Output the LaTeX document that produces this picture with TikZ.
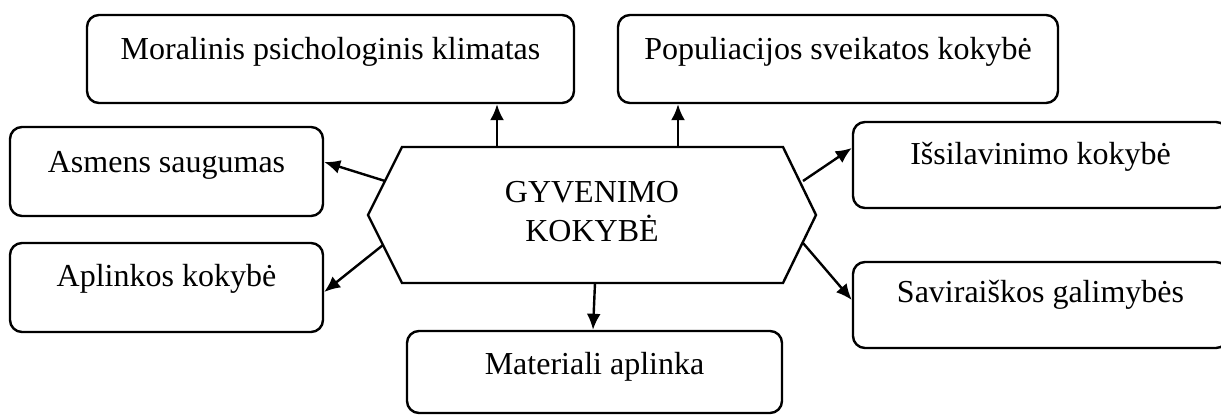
\documentclass[tikz,border=0pt]{standalone}
\usepackage{fontspec}
\setmainfont{Liberation Serif}
\usetikzlibrary{arrows.meta}

\tikzset{
  box/.style={draw, line width=1.2pt, rounded corners=6pt, inner sep=0pt},
  lbl/.style={anchor=base, font=\fontsize{16}{19.5}\selectfont, inner sep=0pt, align=center},
  arr/.style={-{Latex[length=8pt,width=7pt]}, line width=1.2pt},
}

\begin{document}
\begin{tikzpicture}[x=0.5pt, y=-0.5pt]
        \useasboundingbox (0, 0) rectangle (1221, 415);

        % the centre
        \draw[line width=1.2pt] (368, 215) -- (402, 147) -- (783, 147) -- (816, 215) -- (783, 283) -- (402, 283) -- cycle;
        \node[lbl] (gk) at (592, 242) {GYVENIMO\\KOKYBĖ};

        % the boxes
        \node[box, minimum width=243.5pt, minimum height=44pt] (mor) at (330.5, 59) {};
        \node[lbl] (mort) at (330.5, 60) {Moralinis psichologinis klimatas};
        \node[box, minimum width=220pt, minimum height=44pt] (pop) at (838, 59) {};
        \node[lbl] (popt) at (838, 60) {Populiacijos sveikatos kokybė};
        \node[box, minimum width=156.5pt, minimum height=44.5pt] (asm) at (166.5, 171.5) {};
        \node[lbl] (asmt) at (166.5, 173) {Asmens saugumas};
        \node[box, minimum width=156.5pt, minimum height=44.5pt] (apl) at (166.5, 287.5) {};
        \node[lbl] (aplt) at (166.5, 287) {Aplinkos kokybė};
        \node[box, minimum width=187.5pt, minimum height=43pt] (isl) at (1040.5, 165) {};
        \node[lbl] (islt) at (1040.5, 165) {Išsilavinimo kokybė};
        \node[box, minimum width=187.5pt, minimum height=43pt] (sav) at (1040.5, 305) {};
        \node[lbl] (savt) at (1040.5, 303) {Saviraiškos galimybės};
        \node[box, minimum width=187.5pt, minimum height=41pt] (mat) at (594.5, 372) {};
        \node[lbl] (matt) at (594.5, 375) {Materiali aplinka};

        % where the arrows leave the centre
        \coordinate (hm) at (497, 147);
        \coordinate (hp) at (678, 147);
        \coordinate (ha) at (385, 181);
        \coordinate (hl) at (383, 245);
        \coordinate (hi) at (803, 181);
        \coordinate (hs) at (803, 243);
        \coordinate (hb) at (595, 283);

        \draw[arr] (hm) -- (hm |- mor.south);
        \draw[arr] (hp) -- (hp |- pop.south);
        \draw[arr] (ha) -- ([yshift=4.75pt]asm.east);
        \draw[arr] (hl) -- ([yshift=-2.25pt]apl.east);
        \draw[arr] (hi) -- ([yshift=8.5pt]isl.west);
        \draw[arr] (hs) -- ([yshift=2.5pt]sav.west);
        \draw[arr] (hb) -- ([xshift=-0.75pt]mat.north);
      \end{tikzpicture}
\end{document}
